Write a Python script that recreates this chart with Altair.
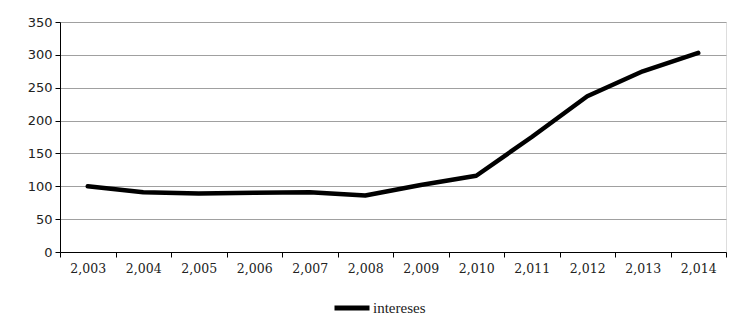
import altair as alt
import pandas as pd

years = ["2,003", "2,004", "2,005", "2,006", "2,007", "2,008",
         "2,009", "2,010", "2,011", "2,012", "2,013", "2,014"]
intereses = [100, 91, 89, 90, 91, 86, 102, 116, 175, 237, 275, 303]
series = ["intereses"] * len(years)

df = pd.DataFrame({"year": years, "value": intereses, "serie": series})

chart = alt.Chart(df).mark_line(strokeWidth=4.5, strokeCap="round", strokeJoin="round").encode(
    x=alt.X("year:O", sort=years, title=None,
            scale=alt.Scale(type="band", paddingInner=0, paddingOuter=0),
            axis=alt.Axis(labelAngle=0, tickBand="extent", domainColor="black",
                          tickColor="black", tickSize=5, labelFont="DejaVu Serif",
                          labelFontSize=12.5, labelColor="#222", labelPadding=5,
                          grid=False)),
    y=alt.Y("value:Q", title=None,
            scale=alt.Scale(domain=[0, 350], nice=False),
            axis=alt.Axis(values=[0, 50, 100, 150, 200, 250, 300, 350],
                          domainColor="black", tickColor="black", tickSize=5,
                          gridColor="#a0a0a0", gridWidth=1.2,
                          labelFont="DejaVu Sans", labelFontSize=13,
                          labelColor="#222", labelPadding=3)),
    color=alt.Color("serie:N", title=None,
                    scale=alt.Scale(range=["black"]),
                    legend=alt.Legend(orient="none", legendX=272, legendY=266,
                                      symbolType="stroke", symbolSize=1225,
                                      symbolStrokeWidth=5, labelFont="Liberation Serif",
                                      labelFontSize=15, labelColor="#222",
                                      labelOffset=1)),
).properties(
    width=666, height=230,
    autosize=alt.AutoSizeParams(type="none"),
    padding={"left": 60, "top": 22, "right": 28, "bottom": 74},
).configure_view(stroke="black", strokeWidth=1.2).configure(background="white")

chart.save("out.html", embed_options={"renderer": "svg", "actions": False})
